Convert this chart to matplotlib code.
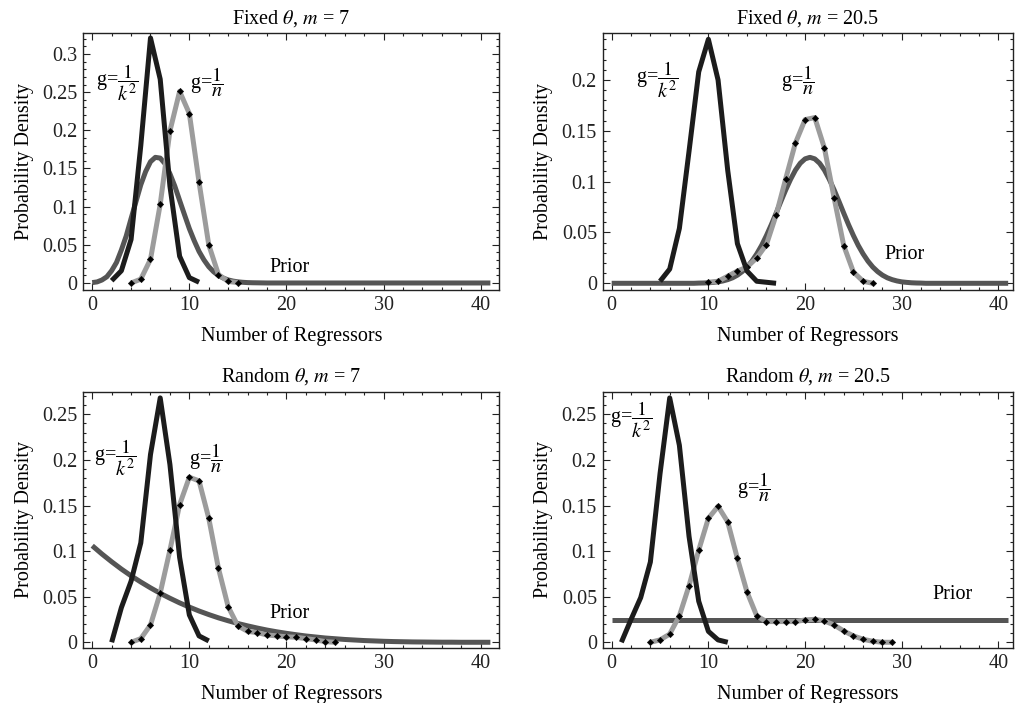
import matplotlib
matplotlib.use("Agg")
import matplotlib.pyplot as plt
from matplotlib.ticker import MultipleLocator, FuncFormatter

plt.rcParams['font.family'] = ['Liberation Serif', 'DejaVu Serif']
plt.rcParams['mathtext.fontset'] = 'stix'

# ---------------- data ----------------
k_all = list(range(0, 42))
k_half = [i * 0.5 for i in range(83)]   # 0, 0.5, ..., 41

# Fixed theta, m = 7 (prior read at half-integer steps, smooth curve)
fx7_prior = [0.0005, 0.0014, 0.0039, 0.0081, 0.0161, 0.0269, 0.0432, 0.0616, 0.0844, 0.1064,
             0.1286, 0.1460, 0.1589, 0.1646, 0.1636, 0.1562, 0.1431, 0.1270, 0.1081, 0.0895,
             0.0712, 0.0554, 0.0413, 0.0303, 0.0213, 0.0147, 0.0098, 0.0064, 0.0040, 0.0025,
             0.0015, 0.0009, 0.0005, 0.0003, 0.0002, 0.0001] + [0.0] * 47
fx7_k2_x = list(range(2, 12))
fx7_k2 = [0.003, 0.016, 0.057, 0.180, 0.321, 0.267, 0.127, 0.035, 0.007, 0.001]
fx7_n_x = list(range(4, 16))
fx7_n = [0.0, 0.005, 0.031, 0.103, 0.199, 0.251, 0.222, 0.132, 0.050, 0.011, 0.002, 0.0005]

# Fixed theta, m = 20.5
fx20_prior = [0.0] * 18 + [0.0002, 0.0003, 0.0005, 0.0009, 0.0014, 0.0023, 0.0036, 0.0054,
                           0.0080, 0.0115, 0.0160, 0.0218, 0.0289, 0.0372, 0.0469, 0.0575,
                           0.0689, 0.0806, 0.0919, 0.1023, 0.1113, 0.1181, 0.1224, 0.1239,
                           0.1224, 0.1181, 0.1113, 0.1023, 0.0919, 0.0806, 0.0689, 0.0575,
                           0.0469, 0.0372, 0.0289, 0.0218, 0.0160, 0.0115, 0.0080, 0.0054,
                           0.0036, 0.0023, 0.0014, 0.0009, 0.0005, 0.0003, 0.0002] + [0.0] * 18
fx20_k2_x = list(range(5, 18))
fx20_k2 = [0.002, 0.014, 0.054, 0.130, 0.208, 0.240, 0.200, 0.111, 0.039, 0.012, 0.002, 0.001, 0.0]
fx20_n_x = list(range(10, 28))
fx20_n = [0.001, 0.002, 0.007, 0.012, 0.016, 0.025, 0.038, 0.067, 0.103, 0.138, 0.161,
          0.163, 0.133, 0.084, 0.037, 0.011, 0.002, 0.0]

# Random theta, m = 7
rd7_prior = [0.1059, 0.0968, 0.0883, 0.0803, 0.0729, 0.0661, 0.0597, 0.0537, 0.0483, 0.0432,
             0.0386, 0.0343, 0.0304, 0.0268, 0.0236, 0.0206, 0.0180, 0.0156, 0.0134, 0.0115,
             0.0098, 0.0083, 0.0069, 0.0058, 0.0047, 0.0039, 0.0031, 0.0025, 0.0019, 0.0015,
             0.0011, 0.0008, 0.0006, 0.0004, 0.0003, 0.0002, 0.0001, 0.0001, 0.0, 0.0, 0.0, 0.0]
rd7_k2_x = list(range(2, 13))
rd7_k2 = [0.0, 0.038, 0.067, 0.109, 0.206, 0.268, 0.195, 0.093, 0.030, 0.007, 0.0015]
rd7_n_x = list(range(4, 26))
rd7_n = [0.0, 0.004, 0.019, 0.054, 0.101, 0.151, 0.181, 0.177, 0.136, 0.081, 0.039, 0.018,
         0.012, 0.0106, 0.008, 0.007, 0.006, 0.0055, 0.004, 0.0026, 0.0007, 0.0]

# Random theta, m = 20.5
rd20_prior = [0.0244] * 42
rd20_k2_x = list(range(1, 13))
rd20_k2 = [0.0, 0.025, 0.049, 0.088, 0.185, 0.268, 0.216, 0.116, 0.045, 0.012, 0.0026, 0.0]
rd20_n_x = list(range(4, 30))
rd20_n = [0.0, 0.0026, 0.009, 0.029, 0.062, 0.101, 0.136, 0.149, 0.132, 0.092, 0.055, 0.029,
          0.0227, 0.0227, 0.0227, 0.0227, 0.0245, 0.0252, 0.0234, 0.019, 0.0124, 0.007,
          0.0033, 0.0011, 0.0, 0.0]

titles = [r"Fixed $\theta$, $m$ = 7", r"Fixed $\theta$, $m$ = 20.5",
          r"Random $\theta$, $m$ = 7", r"Random $\theta$, $m$ = 20.5"]
xlabel = "Number of Regressors"
ylabel = "Probability Density"

# ---------------- style ----------------
C_PRIOR = "#555555"
C_K2 = "#1c1c1c"
C_N = "#9c9c9c"
LW = 3.6
FS = 14.5

fig = plt.figure(figsize=(10.15, 7.03), dpi=100)
W, H = 1015.0, 703.0


def make_ax(l, r, t, b):
    return fig.add_axes([l / W, 1 - b / H, (r - l) / W, (b - t) / H])


axes = [make_ax(83.3, 499.3, 33, 290), make_ax(602.5, 1013, 33, 290),
        make_ax(83.3, 499.3, 391.7, 648.3), make_ax(602.5, 1013, 391.7, 648.3)]

panels = [
    (k_half, fx7_prior, fx7_k2_x, fx7_k2, fx7_n_x, fx7_n),
    (k_half, fx20_prior, fx20_k2_x, fx20_k2, fx20_n_x, fx20_n),
    (k_all, rd7_prior, rd7_k2_x, rd7_k2, rd7_n_x, rd7_n),
    (k_all, rd20_prior, rd20_k2_x, rd20_k2, rd20_n_x, rd20_n),
]
xlims = [(-0.92, 41.92), (-0.95, 41.5), (-0.92, 41.92), (-0.95, 41.5)]
ylims = [(-0.0092, 0.3275), (-0.0066, 0.2462), (-0.0066, 0.2748), (-0.0066, 0.2748)]
k2_pos = [(0.38, 0.263), (2.5, 0.200), (0.17, 0.202), (-0.17, 0.244)]
n_pos = [(10.06, 0.263), (17.5, 0.200), (10.0, 0.202), (12.95, 0.170)]
prior_pos = [(20.3, 0.020), (30.3, 0.028), (20.3, 0.032), (35.3, 0.052)]

fmt = FuncFormatter(lambda v, p: f"{v:g}" if abs(v) > 1e-9 else "0")

for ax, (px, pr, kx, ky, nx, ny), title, xl, yl, kp, npos, pp in zip(
        axes, panels, titles, xlims, ylims, k2_pos, n_pos, prior_pos):
    ax.plot(px, pr, color=C_PRIOR, lw=LW, solid_capstyle='butt',
            solid_joinstyle='round', zorder=2)
    ax.plot(nx, ny, color=C_N, lw=LW, solid_capstyle='butt', solid_joinstyle='round',
            marker='D', markersize=3.3, markerfacecolor='black', markeredgecolor='black',
            markeredgewidth=0.3, zorder=3)
    ax.plot(kx, ky, color=C_K2, lw=LW, solid_capstyle='butt', solid_joinstyle='round',
            zorder=4)
    ax.set_xlim(*xl)
    ax.set_ylim(*yl)
    ax.xaxis.set_major_locator(MultipleLocator(10))
    ax.xaxis.set_minor_locator(MultipleLocator(2))
    ax.yaxis.set_major_locator(MultipleLocator(0.05))
    ax.yaxis.set_minor_locator(MultipleLocator(0.01))
    ax.yaxis.set_major_formatter(fmt)
    ax.tick_params(which='both', direction='in', top=True, right=True,
                   labelsize=FS, width=0.8, colors='#222222')
    ax.tick_params(which='major', length=5, pad=4)
    ax.tick_params(which='minor', length=2.5)
    for s in ax.spines.values():
        s.set_linewidth(1.0)
        s.set_color('#222222')
    ax.set_title(title, fontsize=FS, pad=7)
    ax.set_xlabel(xlabel, fontsize=FS, labelpad=8)
    ax.set_ylabel(ylabel, fontsize=FS, labelpad=6)
    ax.text(kp[0], kp[1], r"g=$\dfrac{1}{k^{2}}$", fontsize=FS, ha='left', va='center',
            zorder=6)
    ax.text(npos[0], npos[1], r"g=$\dfrac{1}{n}$", fontsize=FS, ha='left', va='center',
            zorder=6)
    ax.text(pp[0], pp[1], "Prior", fontsize=FS, ha='center', va='center', zorder=6)

fig.savefig("out.png", dpi=100)
